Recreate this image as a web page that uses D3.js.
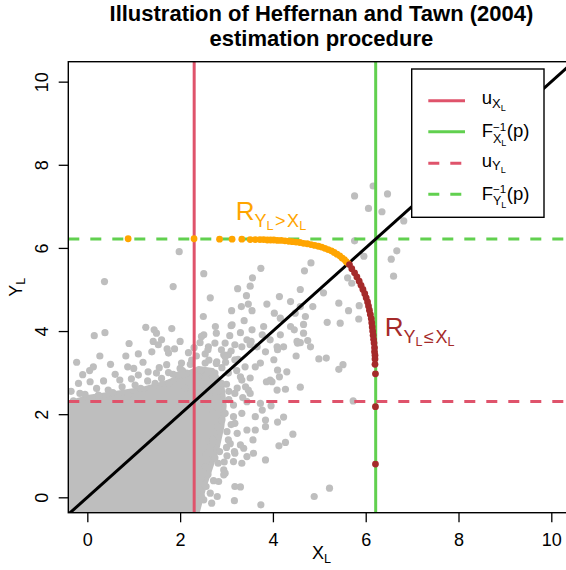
<!DOCTYPE html>
<html>
<head>
<meta charset="utf-8">
<script src="https://cdn.jsdelivr.net/npm/d3@7"></script>
<style>
  body { margin: 0; background: #fff; }
  svg { display: block; font-family: 'Liberation Sans', Arial, Helvetica, sans-serif; }
</style>
</head>
<body>
<div id="graf"></div>
<script>
// I.
xTicks = [0, 2, 4, 6, 8, 10]
yTicks = [0, 2, 4, 6, 8, 10]
xLim = [-0.41, 10.5]
yLim = [-0.37, 10.48]

// umbrales u y cuantiles F^-1(p)
uXL = 2.303
uYL = 2.303
qXL = 6.215
qYL = 6.215

// zona donde la nube de puntos es sólida
nubeDensa = [[-0.45,-0.45],[-0.45,2.25],[0.0,2.4],[0.6,2.5],[1.2,2.6],[1.7,2.75],[2.1,2.95],
  [2.4,3.1],[2.7,3.05],[2.9,2.7],[2.95,2.2],[2.9,1.7],[2.8,1.2],[2.65,0.7],[2.5,0.2],[2.35,-0.45]]

// puntos sueltos alrededor
nubePuntos = [
  [1.98,5.91],[0.37,5.19],[1.85,5.07],[2.51,5.38],[2.65,4.80],[2.50,4.35],[3.56,5.28],[3.51,5.08],
  [3.24,5.02],[3.43,4.85],[3.47,4.65],[3.32,4.59],[3.11,4.49],[3.55,4.49],[3.38,4.25],[3.10,4.13],
  [2.76,4.11],[3.55,4.03],[3.30,3.96],[3.07,3.89],[2.78,3.95],[2.51,3.91],[2.43,3.72],[1.26,4.09],
  [1.44,4.03],[1.82,4.06],[0.15,3.89],[0.38,3.96],[1.42,3.75],[1.53,3.67],[1.60,3.79],[1.39,3.50],
  [1.72,3.57],[1.88,3.57],[2.18,3.48],[0.27,3.40],[0.83,3.40],[2.75,3.71],[2.97,3.71],[3.18,3.67],
  [2.89,3.55],[3.33,3.62],[3.53,3.75],[2.54,3.45],[3.04,3.43],
  [6.16,7.49],[5.76,7.25],[6.06,6.95],[6.35,6.87],[5.76,6.17],[3.74,5.51],[4.68,5.45],[5.09,4.92],
  [4.14,4.83],[3.87,4.65],[4.38,4.71],[4.59,4.59],[4.03,4.43],[4.16,4.31],[4.48,4.43],[4.70,4.35],
  [3.80,4.11],[5.42,4.67],[5.17,4.21],[4.38,4.11],[4.66,3.95],[4.52,3.75],[4.81,3.62],[3.12,4.15],
  [3.44,3.79],[3.66,3.62],[4.09,3.62],[2.94,3.43],[2.79,3.26],
  [6.47,7.30],[6.82,6.65],[5.96,5.80],[6.67,5.93],[6.55,5.73],[6.60,5.32],[4.82,5.64],[5.61,5.28],
  [5.70,5.15],[4.59,5.00],[5.86,4.61],[4.86,4.59],[5.63,4.49],[5.85,4.29],[5.45,4.19],[4.66,4.16],
  [4.46,4.03],[4.75,3.77],[4.53,3.71],[4.50,3.40],[4.99,3.33],[5.15,3.35],[5.51,3.19],[5.42,3.08],
  [4.59,2.65],[5.73,2.32],[4.43,1.52],[5.22,0.22],
  [4.30,3.02],[4.59,3.72],[4.23,3.62],[4.14,2.90],[4.09,2.58],[4.27,2.60],[3.98,2.78],[3.96,2.20],
  [4.23,1.93],[4.10,1.81],[4.27,1.32],[4.13,1.24],[3.84,0.90],[4.89,0.02],[3.74,-0.18],[3.30,0.25],
  [3.17,-0.08],[3.86,2.78],[3.51,2.50],[3.73,2.26],[3.62,1.94],[3.84,1.70],[3.62,1.62],[3.57,1.38],
  [3.37,1.18],[3.58,1.06],[3.15,0.86],[3.44,0.98],[2.94,0.66],[2.94,0.54],[2.83,0.38],[2.56,0.26],
  [2.65,0.10],[2.51,-0.06],[2.80,0.02],[2.54,0.74],[2.56,1.02],[3.01,1.00],[3.17,1.10],[3.08,1.29],
  [3.30,1.26],[3.23,1.54],[3.44,1.62],[3.01,1.58],[2.90,1.86],[3.15,1.94],[3.33,2.02],[3.15,2.22],
  [3.44,2.30],[3.77,2.10],[3.84,1.86],[3.94,2.82],[4.10,3.06],[4.02,3.31],[3.73,3.23],[3.84,3.50],
  [4.10,3.55],[3.94,3.79],[4.16,3.91],[3.77,3.91],[3.51,3.67],[3.62,3.14],[3.51,2.87],[3.30,2.90],
  [3.41,2.66],[3.23,2.63],
  [-0.23,3.25],[0.87,3.14],[0.13,3.14],[-0.19,2.74],[0.06,2.78],[0.45,2.58],[-0.16,2.50],[0.70,2.82],
  [1.10,2.94],[1.31,3.02],[1.49,2.99],[1.71,3.19],[1.75,3.47],[1.49,3.95],[2.03,3.23],[1.03,2.70],
  [1.46,2.74],[1.75,2.74],[1.96,2.94],[2.14,2.99],[0.24,2.46],[0.88,2.46],[2.46,3.87],[2.61,3.62],
  [2.97,3.38],[3.18,3.31],[3.40,3.14],[2.54,3.23],[2.75,2.99],[3.04,2.99],[2.89,2.74],[3.33,2.82],
  [3.47,2.58],[3.18,2.50],[2.97,2.02],[3.18,1.78],[3.04,1.38],[3.18,1.06],[3.33,0.82],[2.82,0.82],
  [2.97,0.58],[3.18,0.26],[2.46,0.02],[2.68,-0.14],
  [2.40,2.50],[2.50,2.72],[2.62,2.45],[2.70,2.90],[2.90,3.12],[2.82,2.55],[3.00,2.72],[2.45,3.05],
  [2.62,3.30],[2.78,3.22],[3.10,3.52],[3.25,3.32],[2.35,3.40],[2.22,3.20],[2.05,3.05],[-0.30,2.32],
  [-0.05,2.48],[0.20,2.62],[0.55,2.52],[0.75,2.66],[1.15,2.62],[1.30,2.80],[1.60,2.86],[1.85,2.96],
  [2.00,3.10],[0.95,2.85],[0.60,2.96],[1.55,3.12],[2.10,2.62],[2.40,2.90],[2.55,2.25],[2.70,2.05],
  [2.80,1.70],[2.70,1.40],[2.65,1.20],[2.85,1.10],[2.75,0.95],[2.60,0.55],[2.45,0.45],[2.72,0.40],
  [1.20,3.25],[0.50,3.20],[-0.10,2.95],[2.30,3.60],[2.00,3.75],[0.90,3.70],[1.10,3.45],
  [3.05,2.35],[3.10,1.75],[3.00,1.20],[2.95,0.85],[3.05,2.55],[2.98,3.25],[3.22,3.05],[3.35,2.40],
  [0.35,2.80],[-0.35,2.55],[1.75,3.00],[2.25,3.30],[2.60,3.55],[0.05,3.05],[1.00,3.10]
]

// rama R_{Y_L > X_L} (naranja)
ramaSup = [[0.88,6.22],[2.30,6.22],[2.85,6.21],[3.12,6.21],[3.33,6.21],[3.51,6.20],[3.62,6.20],
  [3.72,6.20],[3.80,6.20],[3.88,6.19],[3.95,6.19],[4.02,6.19],[4.10,6.18],[4.18,6.18],[4.26,6.17],
  [4.34,6.16],[4.42,6.15],[4.50,6.14],[4.58,6.13],[4.66,6.11],[4.74,6.10],[4.82,6.08],[4.90,6.06],
  [4.98,6.04],[5.05,6.02],[5.12,5.99],[5.19,5.96],[5.26,5.93],[5.32,5.89],[5.38,5.85],[5.44,5.81],
  [5.49,5.76],[5.54,5.72],[5.58,5.67],[5.62,5.63]]

// rama R_{Y_L <= X_L} (marrón)
ramaInf = [[5.65,5.60],[5.70,5.50],[5.76,5.40],[5.81,5.30],[5.86,5.20],[5.90,5.10],[5.94,5.00],
  [5.98,4.90],[6.01,4.80],[6.04,4.70],[6.06,4.60],[6.08,4.50],[6.10,4.40],[6.12,4.30],[6.13,4.20],
  [6.14,4.10],[6.15,4.00],[6.16,3.90],[6.17,3.80],[6.18,3.71],[6.19,3.60],[6.19,3.50],[6.20,3.42],
  [6.20,3.33],[6.20,3.20],[6.21,2.97],[6.21,2.18],[6.21,0.80]]

// II. Configuración
ancho_total = 566
alto_total = 570
plot = { left: 68.3, top: 61.7, right: 574.5, bottom: 512.7 }

colRojo = '#DF536B'
colVerde = '#61D04F'
colGris = '#BEBEBE'
colNaranja = '#FFA500'
colMarron = '#A52A2A'

svg = d3.select('#graf').append('svg')
  .attr('width', ancho_total)
  .attr('height', alto_total)

x = d3.scaleLinear().domain(xLim).range([plot.left, plot.right])
y = d3.scaleLinear().domain(yLim).range([plot.bottom, plot.top])

svg.append('clipPath').attr('id', 'recorte')
  .append('rect')
    .attr('x', plot.left).attr('y', plot.top)
    .attr('width', plot.right - plot.left).attr('height', plot.bottom - plot.top)

g = svg.append('g').attr('clip-path', 'url(#recorte)')

// III. Nube de puntos
g.append('path')
  .datum(nubeDensa)
  .attr('d', d3.line().x(d => x(d[0])).y(d => y(d[1])).curve(d3.curveLinearClosed))
  .style('fill', colGris)
  .style('stroke', colGris)
  .style('stroke-width', 5)
  .style('stroke-linejoin', 'round')

g.selectAll('.gris')
  .data(nubePuntos)
  .enter().append('circle')
    .attr('class', 'gris')
    .attr('cx', d => x(d[0]))
    .attr('cy', d => y(d[1]))
    .attr('r', 3.6)
    .style('fill', colGris)

// IV. Líneas de referencia
function vline(v, col, dash) {
  g.append('line')
    .attr('x1', x(v)).attr('x2', x(v))
    .attr('y1', y(yLim[0])).attr('y2', y(yLim[1]))
    .style('stroke', col).style('stroke-width', 3)
    .style('stroke-dasharray', dash)
}
function hline(v, col, dash) {
  g.append('line')
    .attr('x1', x(xLim[0])).attr('x2', x(xLim[1]))
    .attr('y1', y(v)).attr('y2', y(v))
    .style('stroke', col).style('stroke-width', 3)
    .style('stroke-dasharray', dash)
}
vline(uXL, colRojo, null)
vline(qXL, colVerde, null)
hline(uYL, colRojo, '11,11')
hline(qYL, colVerde, '11,11')

// diagonal y = x
g.append('line')
  .attr('x1', x(-1)).attr('y1', y(-1))
  .attr('x2', x(11)).attr('y2', y(11))
  .style('stroke', '#000').style('stroke-width', 3)

// V. Ramas estimadas
g.selectAll('.sup')
  .data(ramaSup)
  .enter().append('circle')
    .attr('cx', d => x(d[0])).attr('cy', d => y(d[1])).attr('r', 3.4)
    .style('fill', colNaranja)

g.selectAll('.inf')
  .data(ramaInf)
  .enter().append('circle')
    .attr('cx', d => x(d[0])).attr('cy', d => y(d[1])).attr('r', 3.4)
    .style('fill', colMarron)

// texto con sub/superíndices
function escribe(padre, x0, y0, piezas, color) {
  let cx = x0, marca = x0, maxX = x0
  piezas.forEach(p => {
    if (p.vuelve) { maxX = cx; cx = marca }
    if (p.marca) marca = cx
    if (p.sigue) cx = Math.max(cx, maxX)
    cx += p.dx || 0
    t = padre.append('text')
      .attr('x', cx).attr('y', y0 + (p.dy || 0))
      .style('font-size', p.s + 'px')
      .style('fill', color)
      .text(p.t)
    cx += t.node().getComputedTextLength() + (p.dxd || 0)
  })
}

escribe(svg, x(3.20), y(6.67), [
  { t: 'R', s: 26 }, { t: 'Y', s: 18, dy: 6.7 }, { t: 'L', s: 12.6, dy: 10 },
  { t: '>', s: 18, dy: 6.7, dx: 1.5, dxd: 1.5 }, { t: 'X', s: 18, dy: 6.7 }, { t: 'L', s: 12.6, dy: 10 }
], colNaranja)

escribe(svg, x(6.41), y(3.87), [
  { t: 'R', s: 26 }, { t: 'Y', s: 18, dy: 6.7 }, { t: 'L', s: 12.6, dy: 10 },
  { t: '≤', s: 18, dy: 6.7, dx: 1.5, dxd: 1.5 }, { t: 'X', s: 18, dy: 6.7 }, { t: 'L', s: 12.6, dy: 10 }
], colMarron)

// VI. Ejes y marco
xAxis = svg.append('g')
  .attr('transform', `translate(0, ${plot.bottom})`)
  .call(d3.axisBottom(x).tickValues(xTicks).tickSize(9.6).tickFormat(d3.format('d')))
xAxis.select('.domain').remove()
xAxis.selectAll('line').style('stroke', '#000').style('stroke-width', 1.3)
xAxis.selectAll('text')
  .attr('y', 33.3).attr('dy', null)
  .style('font-size', '18px').style('fill', '#000')
  .style('font-family', "'Liberation Sans', Arial, sans-serif")

yAxis = svg.append('g')
  .attr('transform', `translate(${plot.left}, 0)`)
  .call(d3.axisLeft(y).tickValues(yTicks).tickSize(9.6).tickFormat(d3.format('d')))
yAxis.select('.domain').remove()
yAxis.selectAll('line').style('stroke', '#000').style('stroke-width', 1.3)
yAxis.selectAll('text')
  .attr('x', 0).attr('y', -20).attr('dy', null)
  .attr('transform', 'rotate(-90)')
  .attr('text-anchor', 'middle')
  .style('font-size', '18px').style('fill', '#000')
  .style('font-family', "'Liberation Sans', Arial, sans-serif")

svg.append('rect')
  .attr('x', plot.left).attr('y', plot.top)
  .attr('width', plot.right - plot.left).attr('height', plot.bottom - plot.top)
  .style('fill', 'none').style('stroke', '#000').style('stroke-width', 1.4)

// títulos de ejes
xc = (plot.left + plot.right) / 2
xl = svg.append('text').attr('x', xc).attr('y', 559.4).attr('text-anchor', 'middle')
  .style('font-size', '18px')
xl.append('tspan').text('X')
xl.append('tspan').attr('dy', 3.5).style('font-size', '12.6px').text('L')

yc = (plot.top + plot.bottom) / 2
yl = svg.append('text').attr('transform', `translate(21.6, ${yc}) rotate(-90)`).attr('text-anchor', 'middle')
  .style('font-size', '18px')
yl.append('tspan').text('Y')
yl.append('tspan').attr('dy', 3.5).style('font-size', '12.6px').text('L')

// título
titulo = svg.append('text').attr('text-anchor', 'middle')
  .style('font-size', '22px').style('font-weight', 'bold')
titulo.append('tspan').attr('x', xc).attr('y', 21).text('Illustration of Heffernan and Tawn (2004)')
titulo.append('tspan').attr('x', xc).attr('y', 45.7).text('estimation procedure')

// VII. Leyenda
leyenda = svg.append('g')
leyenda.append('rect')
  .attr('x', 411.7).attr('y', 69).attr('width', 132.3).attr('height', 148.3)
  .style('fill', '#fff').style('stroke', '#000').style('stroke-width', 1.4)

filasY = [100.7, 131.7, 163.3, 194.3]
entradas = [
  { col: colRojo, dash: null, sub: 'X', tipo: 'u' },
  { col: colVerde, dash: null, sub: 'X', tipo: 'F' },
  { col: colRojo, dash: '11,11', sub: 'Y', tipo: 'u' },
  { col: colVerde, dash: '11,11', sub: 'Y', tipo: 'F' }
]

entradas.forEach((e, i) => {
  yy = filasY[i]
  leyenda.append('line')
    .attr('x1', 428.3).attr('x2', 465).attr('y1', yy).attr('y2', yy)
    .style('stroke', e.col).style('stroke-width', 3).style('stroke-dasharray', e.dash)
  if (e.tipo == 'u') {
    escribe(leyenda, 481.7, yy + 3.5, [
      { t: 'u', s: 18.5 }, { t: e.sub, s: 13, dy: 3.3 }, { t: 'L', s: 9.1, dy: 6.5 }
    ], '#000')
  } else {
    escribe(leyenda, 481.7, yy + 5.6, [
      { t: 'F', s: 18.5 }, { t: '\u22121', s: 11.5, dy: -6.5, marca: true },
      { t: e.sub, s: 12.5, dy: 5.5, vuelve: true }, { t: 'L', s: 9, dy: 8.5 },
      { t: '(p)', s: 18.5, sigue: true, dx: 0.5 }
    ], '#000')
  }
})
</script>
</body>
</html>
